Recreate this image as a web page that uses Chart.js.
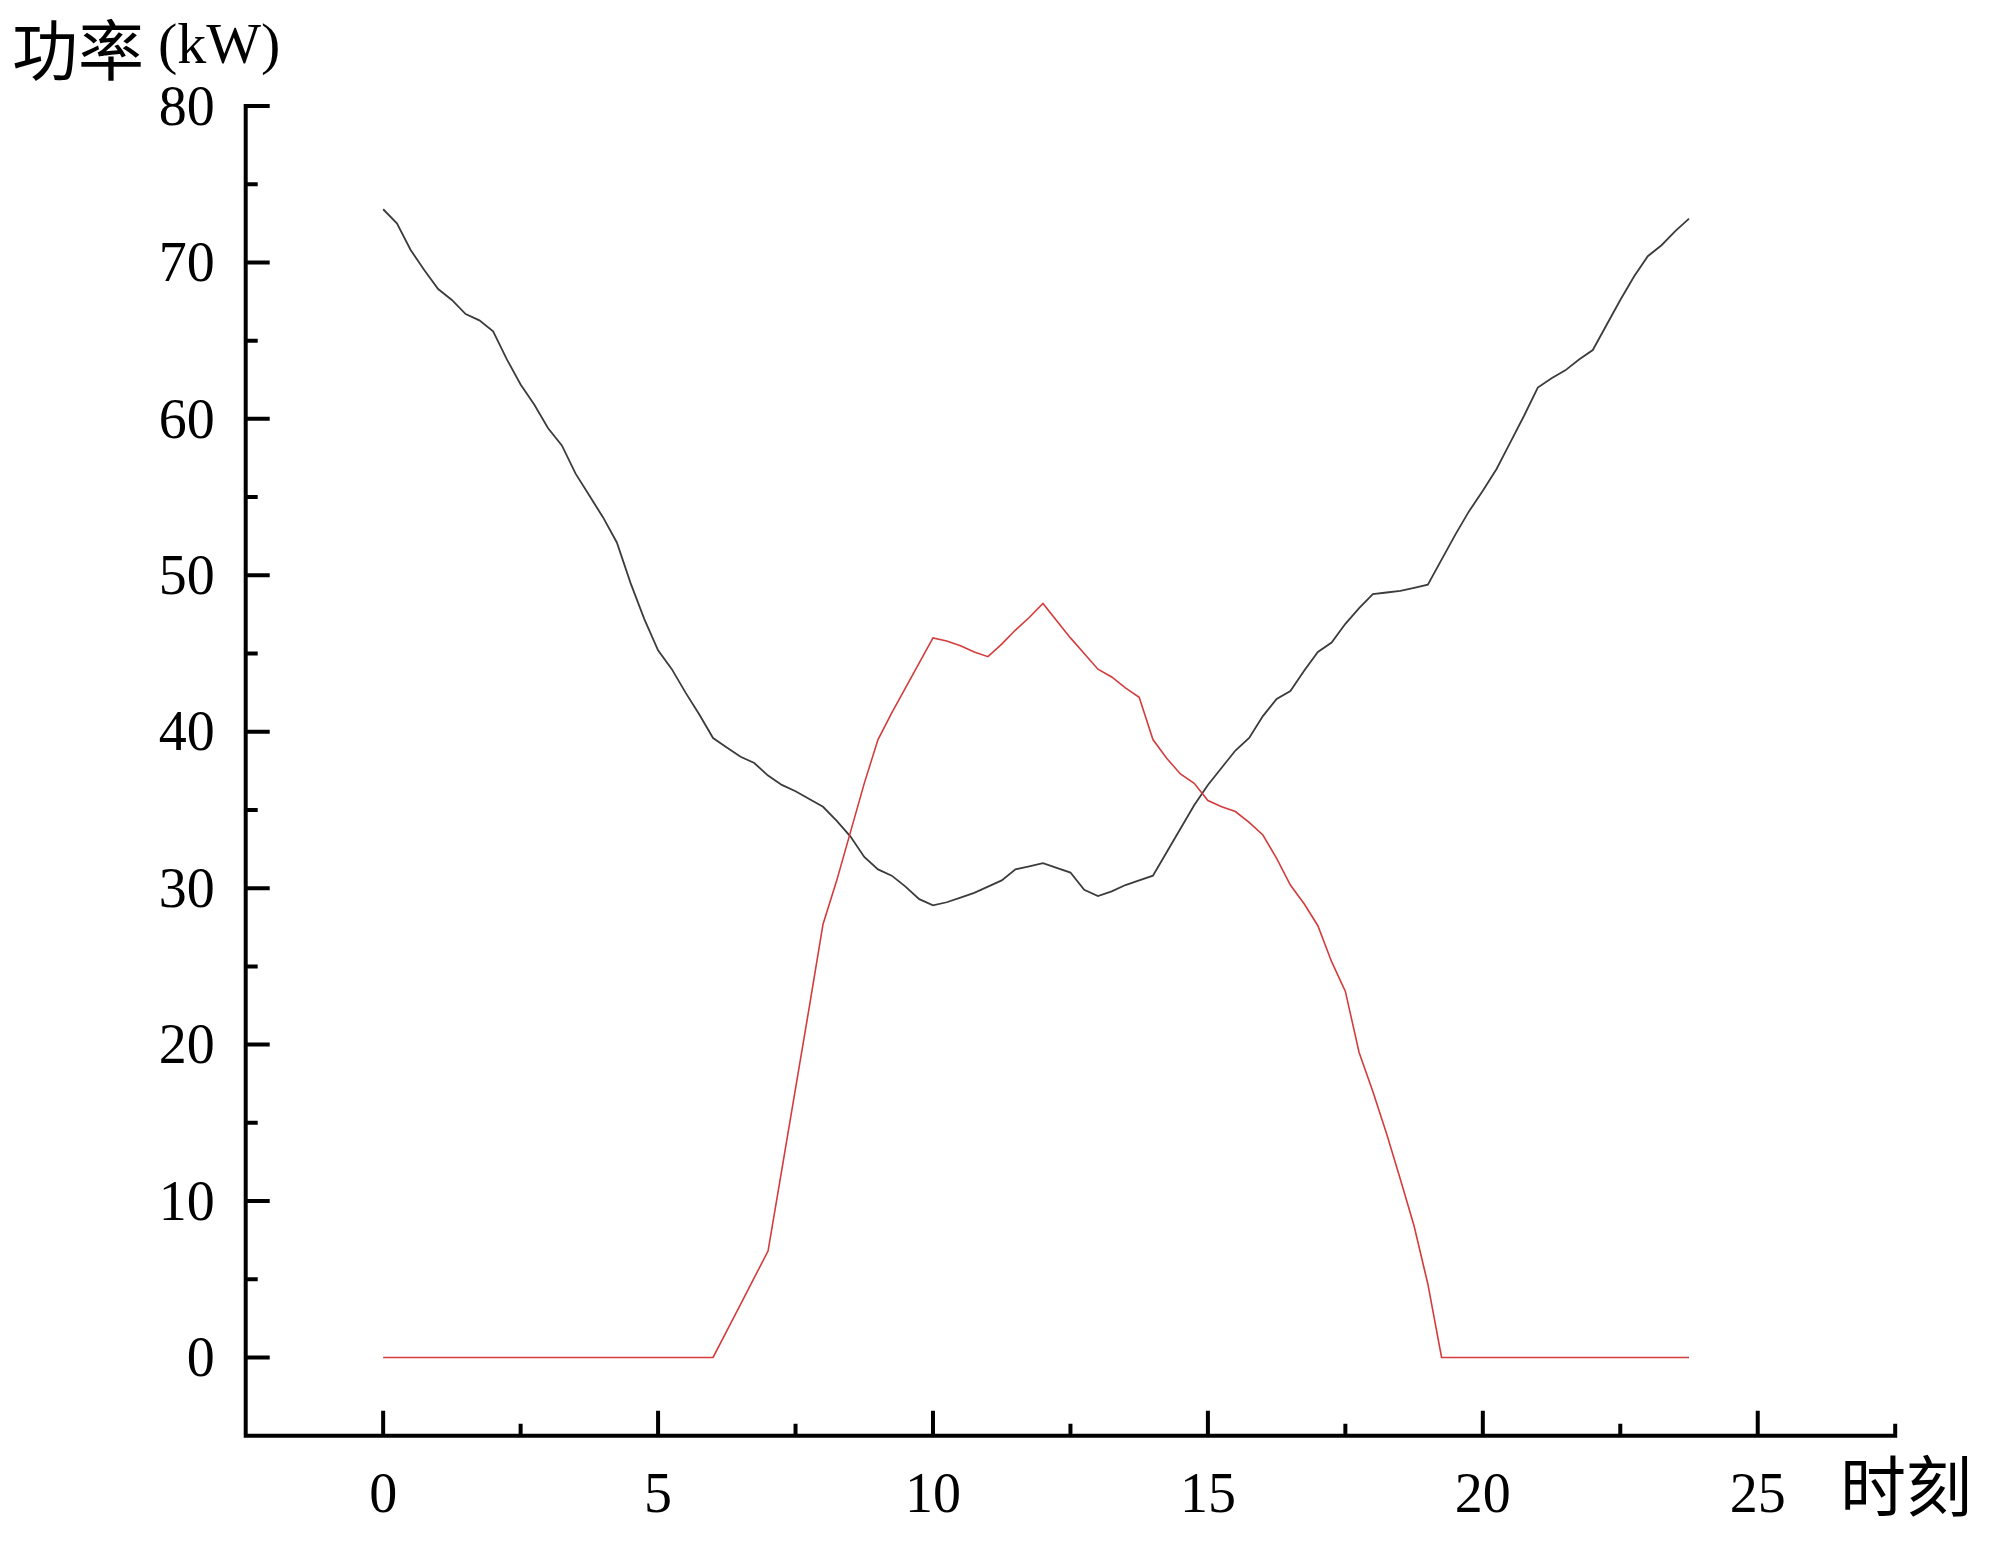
<!DOCTYPE html>
<html>
<head>
<meta charset="utf-8">
<script src="https://cdn.jsdelivr.net/npm/chart.js@4/dist/chart.umd.min.js"></script>
<style>
  html, body { margin: 0; padding: 0; background: #fff; }
  canvas { display: block; }
</style>
</head>
<body>
<canvas id="powerChart" width="2000" height="1546"></canvas>
<script>
// 15-minute sample times (h)
const hours = [
  0, 0.25, 0.5, 0.75, 1, 1.25, 1.5, 1.75, 2, 2.25, 2.5, 2.75,
  3, 3.25, 3.5, 3.75, 4, 4.25, 4.5, 4.75, 5, 5.25, 5.5, 5.75,
  6, 6.25, 6.5, 6.75, 7, 7.25, 7.5, 7.75, 8, 8.25, 8.5, 8.75,
  9, 9.25, 9.5, 9.75, 10, 10.25, 10.5, 10.75, 11, 11.25, 11.5, 11.75,
  12, 12.25, 12.5, 12.75, 13, 13.25, 13.5, 13.75, 14, 14.25, 14.5, 14.75,
  15, 15.25, 15.5, 15.75, 16, 16.25, 16.5, 16.75, 17, 17.25, 17.5, 17.75,
  18, 18.25, 18.5, 18.75, 19, 19.25, 19.5, 19.75, 20, 20.25, 20.5, 20.75,
  21, 21.25, 21.5, 21.75, 22, 22.25, 22.5, 22.75, 23, 23.25, 23.5, 23.75
];

// black curve (kW)
const blackKW = [
  73.4, 72.5, 70.8, 69.5, 68.3, 67.6, 66.7, 66.3, 65.6, 63.8, 62.2, 60.9,
  59.4, 58.3, 56.5, 55.1, 53.7, 52.1, 49.5, 47.2, 45.2, 44.0, 42.5, 41.1,
  39.6, 39.0, 38.4, 38.0, 37.2, 36.6, 36.2, 35.7, 35.2, 34.3, 33.3, 32.0,
  31.2, 30.8, 30.1, 29.3, 28.9, 29.1, 29.4, 29.7, 30.1, 30.5, 31.2, 31.4,
  31.6, 31.3, 31.0, 29.9, 29.5, 29.8, 30.2, 30.5, 30.8, 32.3, 33.8, 35.3,
  36.6, 37.7, 38.8, 39.6, 41.0, 42.1, 42.6, 43.9, 45.1, 45.7, 46.9, 47.9,
  48.8, 48.9, 49.0, 49.2, 49.4, 51.0, 52.6, 54.1, 55.4, 56.8, 58.5, 60.2,
  62.0, 62.6, 63.1, 63.8, 64.4, 66.0, 67.6, 69.1, 70.4, 71.1, 72.0, 72.8
];

// red curve (kW)
const redKW = [
  0, 0, 0, 0, 0, 0, 0, 0, 0, 0, 0, 0,
  0, 0, 0, 0, 0, 0, 0, 0, 0, 0, 0, 0,
  0, 1.7, 3.4, 5.1, 6.8, 12.0, 17.2, 22.4, 27.7, 30.5, 33.6, 36.7,
  39.5, 41.2, 42.8, 44.4, 46.0, 45.8, 45.5, 45.1, 44.8, 45.6, 46.5, 47.3,
  48.2, 47.1, 46.0, 45.0, 44.0, 43.5, 42.8, 42.2, 39.5, 38.3, 37.3, 36.7,
  35.6, 35.2, 34.9, 34.2, 33.4, 31.9, 30.2, 29.0, 27.6, 25.3, 23.4, 19.5,
  17.0, 14.3, 11.4, 8.4, 4.7, 0, 0, 0, 0, 0, 0, 0,
  0, 0, 0, 0, 0, 0, 0, 0, 0, 0, 0, 0
];

// axis ticks
const xMajorTicks = [0, 5, 10, 15, 20, 25];
const xMinorTicks = [-2.5, 2.5, 7.5, 12.5, 17.5, 22.5, 27.5];
const yMajorTicks = [0, 10, 20, 30, 40, 50, 60, 70, 80];
const yMinorTicks = [-5, 5, 15, 25, 35, 45, 55, 65, 75];

const yTitleCJK = "功率";
const yTitleUnit = "(kW)";
const xTitle = "时刻";

const serif = "'Liberation Serif', 'Times New Roman', serif";
const cjk = "'Noto Sans CJK SC', sans-serif";

// axis lines, inward ticks and axis titles
const axisFrame = {
  id: "axisFrame",
  afterDraw(chart) {
    const { ctx, chartArea: a, scales } = chart;
    const xs = scales.x, ys = scales.y;
    ctx.save();
    ctx.strokeStyle = "#000";
    ctx.lineWidth = 4;
    ctx.beginPath();
    ctx.moveTo(a.left, a.top - 2);
    ctx.lineTo(a.left, a.bottom + 2);
    ctx.moveTo(a.left - 2, a.bottom);
    ctx.lineTo(a.right + 2, a.bottom);

    xMajorTicks.forEach(v => {
      const px = xs.getPixelForValue(v);
      ctx.moveTo(px, a.bottom);
      ctx.lineTo(px, a.bottom - 25);
    });
    xMinorTicks.forEach(v => {
      const px = xs.getPixelForValue(v);
      ctx.moveTo(px, a.bottom);
      ctx.lineTo(px, a.bottom - 12);
    });
    yMajorTicks.forEach(v => {
      const py = ys.getPixelForValue(v);
      ctx.moveTo(a.left, py);
      ctx.lineTo(a.left + 24, py);
    });
    yMinorTicks.forEach(v => {
      const py = ys.getPixelForValue(v);
      ctx.moveTo(a.left, py);
      ctx.lineTo(a.left + 12, py);
    });
    ctx.stroke();

    // titles
    ctx.fillStyle = "#000";
    ctx.textBaseline = "middle";
    ctx.textAlign = "left";
    ctx.font = "66px " + cjk;
    ctx.fillText(yTitleCJK, 12, 50);
    ctx.font = "58px " + serif;
    ctx.fillText(yTitleUnit, 158, 48);

    ctx.font = "66px " + cjk;
    ctx.fillText(xTitle, 1840, 1486);
    ctx.restore();
  }
};

const ctx = document.getElementById("powerChart").getContext("2d");

new Chart(ctx, {
  type: "line",
  data: {
    datasets: [
      {
        label: "red",
        data: hours.map((h, i) => ({ x: h, y: redKW[i] })),
        borderColor: "#d43c3c",
        borderWidth: 1.6,
        pointRadius: 0,
        tension: 0
      },
      {
        label: "black",
        data: hours.map((h, i) => ({ x: h, y: blackKW[i] })),
        borderColor: "#3c3c3c",
        borderWidth: 1.8,
        pointRadius: 0,
        tension: 0
      }
    ]
  },
  options: {
    responsive: false,
    animation: false,
    devicePixelRatio: 1,
    layout: { padding: { top: 106, right: 104.8, left: 0, bottom: 0 } },
    plugins: {
      legend: { display: false },
      tooltip: { enabled: false }
    },
    scales: {
      x: {
        type: "linear",
        min: -2.5,
        max: 27.5,
        afterFit(s) { s.height = 110.3; },
        afterBuildTicks(s) { s.ticks = xMajorTicks.map(v => ({ value: v })); },
        grid: { display: false, drawTicks: false },
        border: { display: false },
        ticks: {
          padding: 28,
          color: "#000",
          maxRotation: 0,
          autoSkip: false,
          font: { family: serif, size: 56 }
        }
      },
      y: {
        type: "linear",
        min: -5,
        max: 80,
        afterFit(s) { s.width = 245.7; },
        afterBuildTicks(s) { s.ticks = yMajorTicks.map(v => ({ value: v })); },
        grid: { display: false, drawTicks: false },
        border: { display: false },
        ticks: {
          padding: 31,
          labelOffset: 4,
          color: "#000",
          autoSkip: false,
          font: { family: serif, size: 56 }
        }
      }
    }
  },
  plugins: [axisFrame]
});
</script>
</body>
</html>
